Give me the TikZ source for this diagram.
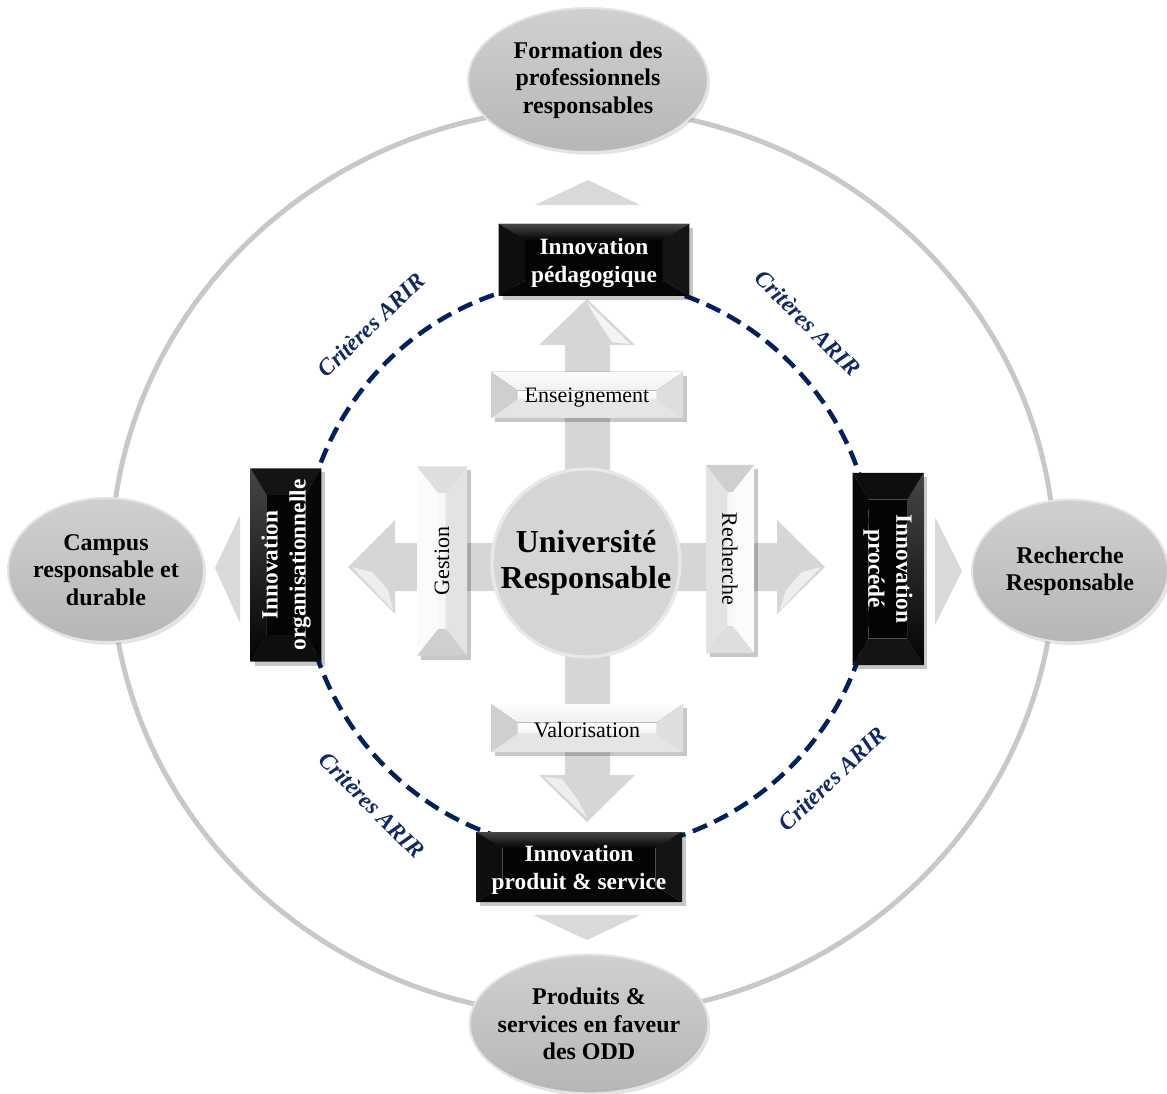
\documentclass[tikz,border=0pt]{standalone}
\usepackage{fontspec}
\setmainfont{Liberation Serif}
\usetikzlibrary{shapes.geometric,shadows,calc}
\definecolor{ringgray}{RGB}{200,200,200}
\definecolor{arrgray}{RGB}{217,217,217}
\definecolor{crossgray}{RGB}{214,214,214}
\definecolor{navy}{RGB}{0,32,96}
\definecolor{critcol}{RGB}{16,40,100}
\definecolor{ellA}{RGB}{208,208,208}
\definecolor{ellB}{RGB}{182,182,182}
\definecolor{ellRim}{RGB}{228,228,228}
\definecolor{uniFill}{RGB}{213,213,213}
\definecolor{uniRim}{RGB}{232,232,232}
\definecolor{bkTop}{RGB}{70,70,70}
\definecolor{bkBot}{RGB}{6,6,6}
\definecolor{bkLeft}{RGB}{14,14,14}
\definecolor{bkRight}{RGB}{20,20,20}
\definecolor{bkFace}{RGB}{4,4,4}
\pgfdeclarelayer{back}
\pgfdeclarelayer{facet}
\pgfsetlayers{back,facet,main}
% #1 name, #2 bevel x, #3 bevel y, #4 top, #5 bottom, #6 left, #7 right, #8 face
\newcommand\bvfacets[8]{%
  \coordinate (#1-a) at ($(#1.north west)!#2!(#1.north east)+(#1.north west)!#3!(#1.south west)-(#1.north west)$);
  \coordinate (#1-b) at ($(#1.north east)!#2!(#1.north west)+(#1.north east)!#3!(#1.south east)-(#1.north east)$);
  \coordinate (#1-c) at ($(#1.south west)!#2!(#1.south east)+(#1.south west)!#3!(#1.north west)-(#1.south west)$);
  \coordinate (#1-d) at ($(#1.south east)!#2!(#1.south west)+(#1.south east)!#3!(#1.north east)-(#1.south east)$);
  \fill[black,opacity=.22] ([shift={(3pt,-3pt)}]#1.north west) -- ([shift={(3pt,-3pt)}]#1.north east)
     -- ([shift={(3pt,-3pt)}]#1.south east) -- ([shift={(3pt,-3pt)}]#1.south west) -- cycle;
  \fill[#8] (#1-a) -- (#1-b) -- (#1-d) -- (#1-c) -- cycle;
  \fill[#4] (#1.north west) -- (#1.north east) -- (#1-b) -- (#1-a) -- cycle;
  \fill[#5] (#1.south west) -- (#1.south east) -- (#1-d) -- (#1-c) -- cycle;
  \fill[#6] (#1.north west) -- (#1-a) -- (#1-c) -- (#1.south west) -- cycle;
  \fill[#7] (#1.north east) -- (#1-b) -- (#1-d) -- (#1.south east) -- cycle;
}
\tikzset{
  ellbox/.style={shape=ellipse, inner xsep=-8pt, inner ysep=-4pt, top color=ellA, bottom color=ellB,
     draw=ellRim, line width=1.5pt,
     drop shadow={opacity=.22, shadow xshift=1.5pt, shadow yshift=-2pt},
     align=center, font=\fontsize{18}{20.6}\selectfont\bfseries},
  blkbox/.style={shape=rectangle, inner sep=0pt, outer sep=0pt, align=center, text=white,
     font=\fontsize{17.5}{21}\selectfont\bfseries},
  lgtbox/.style={shape=rectangle, inner sep=0pt, outer sep=0pt, align=center, text=black,
     font=\fontsize{16.5}{19}\selectfont},
  crit/.style={text=critcol, font=\fontsize{17.5}{20}\selectfont\bfseries\itshape, inner sep=0pt},
  tri/.style={fill=arrgray}
}
\begin{document}
\begin{tikzpicture}[x=0.75pt,y=-0.75pt]
\useasboundingbox (0,0) rectangle (1167,1094);

% ---------- ellipses ----------
\node[ellbox, minimum width=180pt, minimum height=108pt] (formE) at (588,80) {Formation des\\professionnels\\responsables};
\node[ellbox, minimum width=147pt, minimum height=108pt] (campE) at (106,570) {Campus\\responsable et\\durable};
\node[ellbox, minimum width=147pt, minimum height=107pt] (rechE) at (1070,571) {Recherche\\Responsable};
\node[ellbox, minimum width=179pt, minimum height=104pt] (prodE) at (589,1024) {Produits \&\\services en faveur\\des ODD};

% ---------- central circle ----------
\node[shape=circle, minimum size=141pt, inner sep=0pt, fill=uniFill,
      draw=uniRim, line width=2.5pt, align=center,
      drop shadow={opacity=.12, shadow xshift=1pt, shadow yshift=-1.5pt},
      font=\fontsize{24}{27}\selectfont\bfseries] (uni) at (586,563) {Université\\Responsable};

% ---------- black boxes ----------
\node[blkbox, minimum width=143pt, minimum height=54pt] (ped) at (594,260) {\rule{0pt}{17pt}Innovation\\pédagogique};
\node[blkbox, rotate=90, minimum width=145pt, minimum height=53pt] (org) at (286,565) {Innovation\\organisationnelle};
\node[blkbox, rotate=-90, minimum width=144pt, minimum height=53pt] (proc) at (888,569) {Innovation\\procédé};
\node[blkbox, minimum width=154.5pt, minimum height=52.5pt] (prod) at (579,867) {\rule{0pt}{17pt}Innovation\\produit \& service};

% ---------- light bevel boxes ----------
\node[lgtbox, minimum width=144pt, minimum height=34.5pt] (ens) at (587,395) {\rule{0pt}{15pt}Enseignement};
\node[lgtbox, minimum width=144pt, minimum height=36pt] (val) at (587,728) {\rule{0pt}{14pt}Valorisation};
\node[lgtbox, rotate=90, minimum width=142pt, minimum height=37.5pt] (gest) at (442,561) {Gestion};
\node[lgtbox, rotate=-90, minimum width=141pt, minimum height=36pt] (rech) at (730,559) {Recherche};

% ---------- Critères ARIR ----------
\node[crit, rotate=44] (c1) at (371,325) {Critères ARIR};
\node[crit, rotate=-45] (c2) at (808,323) {Critères ARIR};
\node[crit, rotate=-45] (c3) at (372,805) {Critères ARIR};
\node[crit, rotate=44] (c4) at (832,779) {Critères ARIR};

\begin{pgfonlayer}{back}
  % outer ring
  \draw[ringgray, line width=3.75pt] (583,562) ellipse [x radius=472, y radius=454];
  % dashed circle
  \draw[navy, line width=3.4pt, dash pattern=on 11.5pt off 6pt] (588,565) circle [radius=286];
  % triangles
  \fill[tri] (535,205) -- (640,205) -- (588,180) -- cycle;
  \fill[tri] (240,515) -- (240,623) -- (215,568) -- cycle;
  \fill[tri] (935,517) -- (935,625) -- (962,571) -- cycle;
  \fill[tri] (533,915) -- (640,915) -- (587,940) -- cycle;
  % cross arrow
  \fill[crossgray] (587,299) -- (635,345) -- (610,345) -- (610,543) -- (777,543) -- (777,520)
     -- (825,567) -- (777,614) -- (777,591) -- (610,591) -- (610,775) -- (635,775) -- (587,822)
     -- (539,775) -- (565,775) -- (565,591) -- (395,591) -- (395,614) -- (348,567) -- (395,520)
     -- (395,543) -- (565,543) -- (565,345) -- (539,345) -- cycle;
  % gloss on arrow heads
  \fill[white, opacity=.75] (587,302) -- (630,344) -- (612,342) -- (596,318) -- cycle;
  \fill[white, opacity=.6] (352,567) -- (393,610) -- (388,590) -- (372,572) -- cycle;
  \fill[white, opacity=.6] (821,567) -- (780,610) -- (786,590) -- (802,572) -- cycle;
  \fill[white, opacity=.6] (587,818) -- (544,777) -- (562,779) -- (578,800) -- cycle;
\end{pgfonlayer}

\begin{pgfonlayer}{facet}
  \bvfacets{ped}{20pt}{12pt}{top color=bkTop,bottom color=bkFace}{fill=bkBot}{fill=bkLeft}{fill=bkRight}{fill=bkFace}
  \bvfacets{org}{20pt}{12pt}{top color=bkTop,bottom color=bkFace}{fill=bkBot}{fill=bkLeft}{fill=bkRight}{fill=bkFace}
  \bvfacets{proc}{20pt}{12pt}{top color=bkTop,bottom color=bkFace}{fill=bkBot}{fill=bkLeft}{fill=bkRight}{fill=bkFace}
  \bvfacets{prod}{20pt}{12pt}{top color=bkTop,bottom color=bkFace}{fill=bkBot}{fill=bkLeft}{fill=bkRight}{fill=bkFace}
  \bvfacets{ens}{20pt}{14pt}{top color=gray!2,bottom color=gray!12}{fill=gray!20}{fill=gray!38}{fill=gray!26}{top color=white,bottom color=gray!8}
  \bvfacets{val}{20pt}{14pt}{top color=gray!2,bottom color=gray!12}{fill=gray!20}{fill=gray!38}{fill=gray!26}{top color=white,bottom color=gray!8}
  \bvfacets{gest}{20pt}{16pt}{fill=gray!3}{fill=gray!22}{fill=gray!38}{fill=gray!26}{fill=gray!6}
  \bvfacets{rech}{20pt}{16pt}{fill=gray!3}{fill=gray!22}{fill=gray!38}{fill=gray!26}{fill=gray!6}
\end{pgfonlayer}
\end{tikzpicture}
\end{document}
